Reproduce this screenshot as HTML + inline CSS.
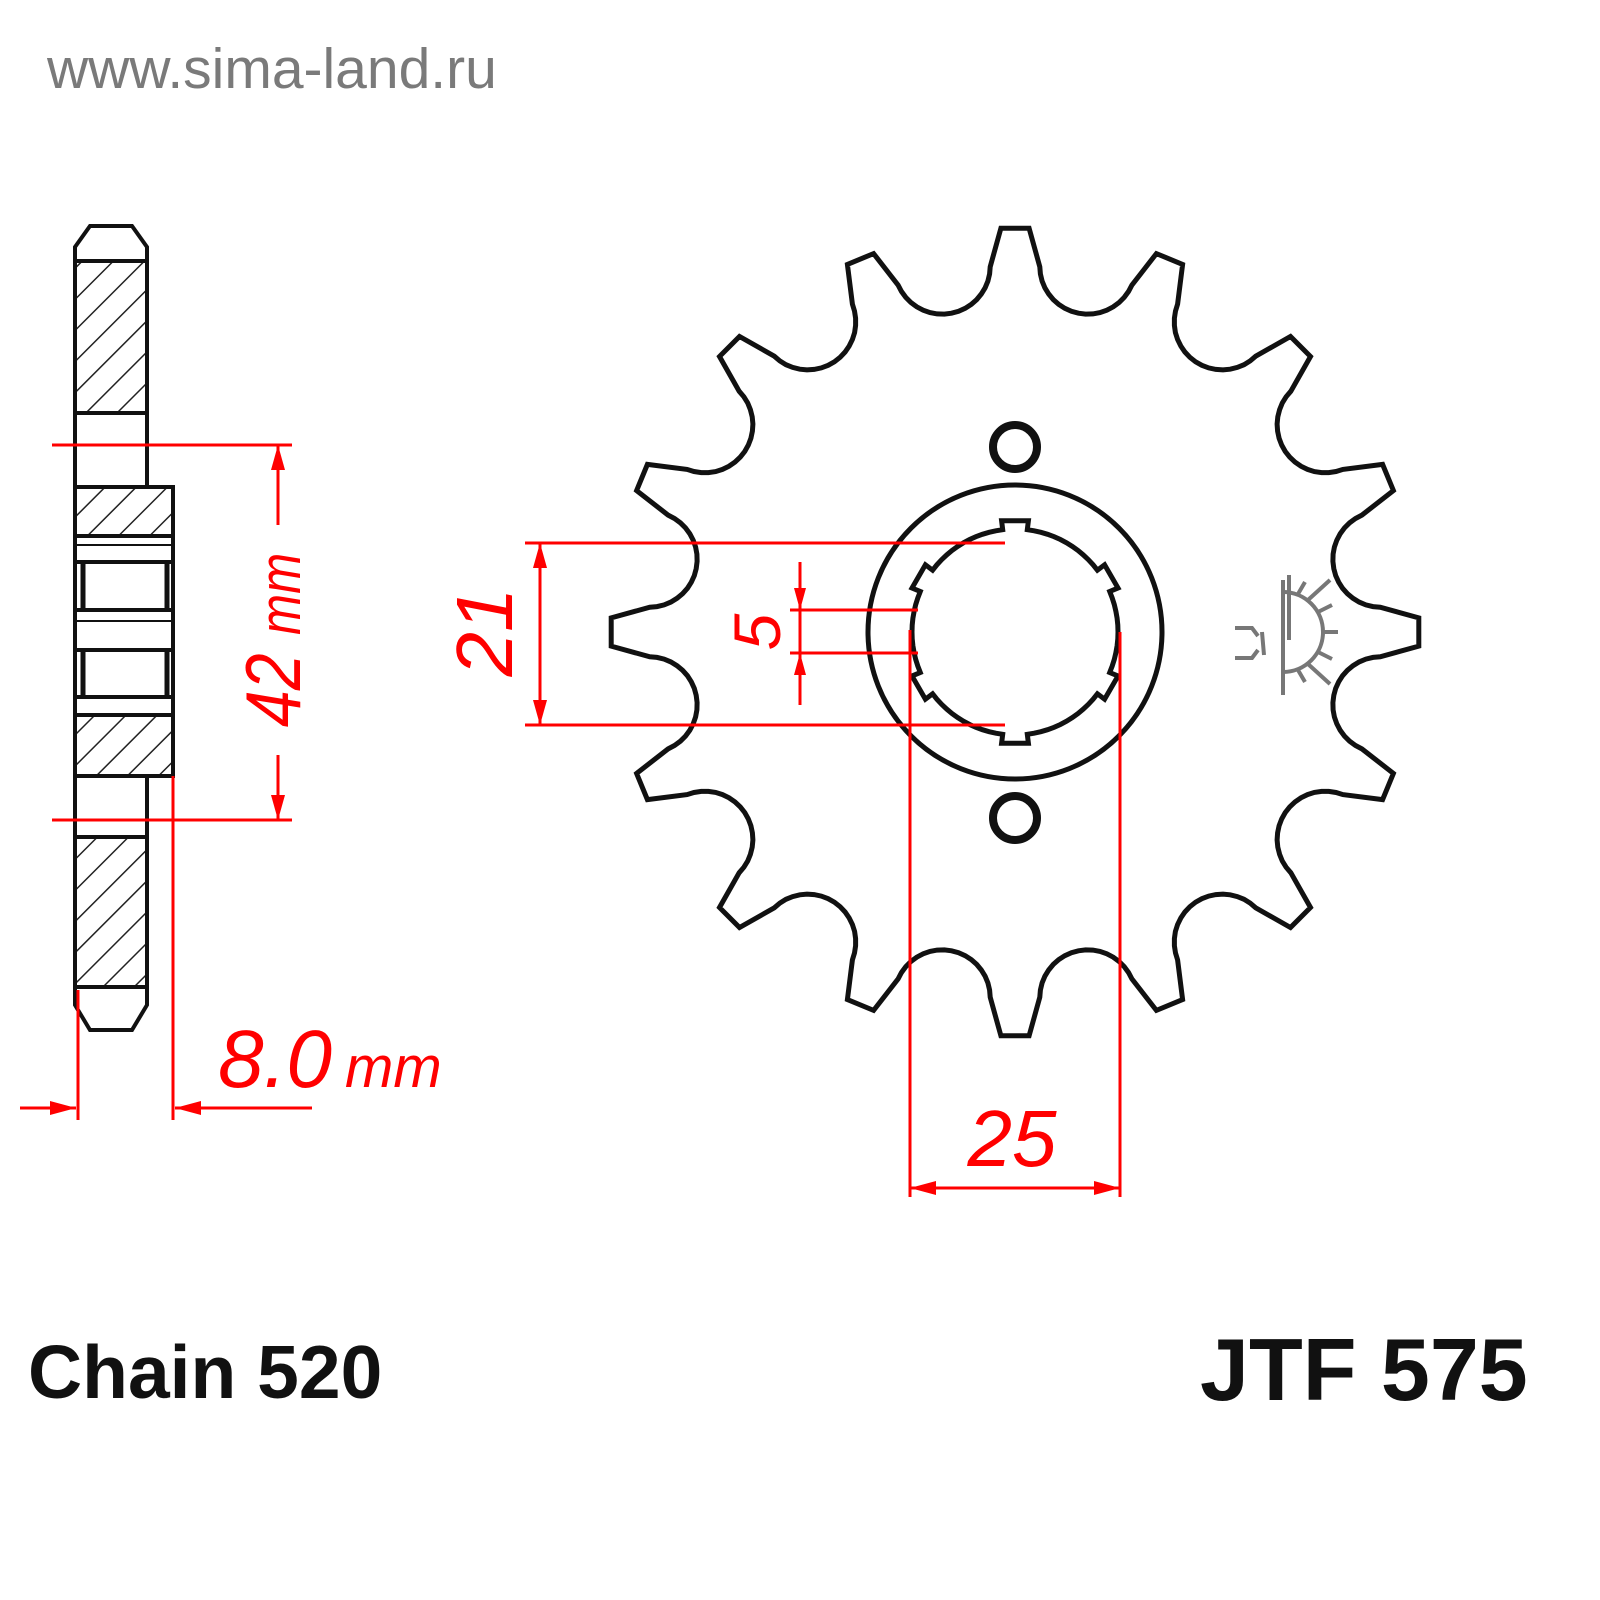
<!DOCTYPE html>
<html><head><meta charset="utf-8"><style>
html,body{margin:0;padding:0;background:#fff;}
svg{display:block}
</style></head><body>
<svg id="s" width="1600" height="1600" viewBox="0 0 1600 1600" xmlns="http://www.w3.org/2000/svg">
<defs>
<pattern id="h" patternUnits="userSpaceOnUse" width="22" height="22" patternTransform="rotate(45)">
<rect width="22" height="22" fill="#fff"/><line x1="0" y1="0" x2="0" y2="22" stroke="#222" stroke-width="3"/>
</pattern>
</defs>
<text x="47" y="88" font-family="Liberation Sans, sans-serif" font-size="57" fill="#7a7a7a">www.sima-land.ru</text>

<!-- side view -->
<g stroke="#111" stroke-width="4" fill="none">
<path d="M75,261 L75,247 L90,226 L132,226 L147,247 L147,261" fill="#fff"/>
<path d="M75,987 L75,1005 L90,1030 L132,1030 L147,1005 L147,987" fill="#fff"/>
<rect x="77" y="261" width="68" height="152" fill="url(#h)" stroke="none"/>
<rect x="77" y="487" width="94" height="49" fill="url(#h)" stroke="none"/>
<rect x="77" y="715" width="94" height="61" fill="url(#h)" stroke="none"/>
<rect x="77" y="837" width="68" height="150" fill="url(#h)" stroke="none"/>
<path d="M75,247 L75,1005"/>
<path d="M147,247 L147,487 L173,487 L173,776 L147,776 L147,1005"/>
<line x1="75" y1="261" x2="147" y2="261"/>
<line x1="75" y1="413" x2="147" y2="413"/>
<line x1="75" y1="487" x2="147" y2="487"/>
<line x1="75" y1="536" x2="173" y2="536"/>
<line x1="75" y1="545" x2="173" y2="545" stroke-width="2"/>
<line x1="75" y1="562" x2="173" y2="562"/>
<line x1="75" y1="610" x2="173" y2="610"/>
<line x1="75" y1="621" x2="173" y2="621" stroke-width="2"/>
<line x1="75" y1="650" x2="173" y2="650"/>
<line x1="75" y1="697" x2="173" y2="697"/>
<line x1="75" y1="715" x2="173" y2="715"/>
<line x1="75" y1="776" x2="147" y2="776"/>
<line x1="75" y1="837" x2="147" y2="837"/>
<line x1="75" y1="987" x2="147" y2="987"/>
<line x1="83" y1="562" x2="83" y2="610" stroke-width="5"/>
<line x1="167" y1="562" x2="167" y2="610" stroke-width="5"/>
<line x1="83" y1="650" x2="83" y2="697" stroke-width="5"/>
<line x1="167" y1="650" x2="167" y2="697" stroke-width="5"/>
</g>

<!-- red dims left -->
<g stroke="#f00" stroke-width="3" fill="none">
<line x1="52" y1="445" x2="292" y2="445"/>
<line x1="52" y1="820" x2="292" y2="820"/>
<line x1="278" y1="445" x2="278" y2="525"/>
<line x1="278" y1="755" x2="278" y2="820"/>
<line x1="78" y1="990" x2="78" y2="1120"/>
<line x1="173" y1="776" x2="173" y2="1120"/>
<line x1="20" y1="1108" x2="76" y2="1108"/>
<line x1="175" y1="1108" x2="312" y2="1108"/>
</g>
<g fill="#f00">
<polygon points="278,445 271,470 285,470"/>
<polygon points="278,820 271,795 285,795"/>
<polygon points="76,1108 50,1101 50,1115"/>
<polygon points="175,1108 201,1101 201,1115"/>
</g>
<g font-family="Liberation Sans, sans-serif" fill="#f00">
<text transform="translate(300,640) rotate(-90) scale(0.85,1)" text-anchor="middle" font-size="78" font-style="italic">42 <tspan font-size="58">mm</tspan></text>
<text x="218" y="1087" font-size="82" font-style="italic">8.0</text>
<text x="345" y="1087" font-size="58" font-style="italic">mm</text>
</g>

<!-- sprocket -->
<path id="spr" fill="none" stroke="#111" stroke-width="5"/>
<circle cx="1015" cy="632" r="147" fill="none" stroke="#111" stroke-width="5"/>
<path id="spl" fill="none" stroke="#111" stroke-width="5"/>
<circle cx="1015" cy="447" r="22" fill="none" stroke="#111" stroke-width="8"/>
<circle cx="1015" cy="818" r="22" fill="none" stroke="#111" stroke-width="8"/>

<!-- logo -->
<g stroke="#777" stroke-width="4" fill="none">
<line x1="1283" y1="580" x2="1283" y2="695"/>
<line x1="1289" y1="575" x2="1289" y2="640"/>
<path d="M1283,592 A40,40 0 0 1 1283,672"/>
<line x1="1323" y1="632" x2="1338" y2="632"/>
<line x1="1318" y1="612" x2="1332" y2="605"/>
<line x1="1318" y1="652" x2="1332" y2="659"/>
<line x1="1308" y1="600" x2="1330" y2="580"/>
<line x1="1308" y1="664" x2="1330" y2="684"/>
<line x1="1298" y1="594" x2="1305" y2="582"/>
<line x1="1298" y1="670" x2="1305" y2="682"/>
<path d="M1235,628 L1252,628 L1258,636 M1235,658 L1252,658 L1258,650 M1262,632 L1264,655"/>
</g>

<!-- red dims right -->
<g stroke="#f00" stroke-width="3" fill="none">
<line x1="525" y1="543" x2="1005" y2="543"/>
<line x1="525" y1="725" x2="1005" y2="725"/>
<line x1="540" y1="543" x2="540" y2="725"/>
<line x1="790" y1="610" x2="918" y2="610"/>
<line x1="790" y1="653" x2="918" y2="653"/>
<line x1="800" y1="562" x2="800" y2="705"/>
<line x1="910" y1="630" x2="910" y2="1197"/>
<line x1="1120" y1="632" x2="1120" y2="1197"/>
<line x1="910" y1="1188" x2="1120" y2="1188"/>
</g>
<g fill="#f00">
<polygon points="540,543 533,568 547,568"/>
<polygon points="540,725 533,700 547,700"/>
<polygon points="800,610 794,588 806,588"/>
<polygon points="800,653 794,675 806,675"/>
<polygon points="910,1188 936,1181 936,1195"/>
<polygon points="1120,1188 1094,1181 1094,1195"/>
</g>
<g font-family="Liberation Sans, sans-serif" fill="#f00" font-size="80" font-style="italic">
<text transform="translate(512,632) rotate(-90)" text-anchor="middle">21</text>
<text transform="translate(780,632) rotate(-90)" text-anchor="middle" font-size="66">5</text>
<text x="1012" y="1166" text-anchor="middle">25</text>
</g>

<g font-family="Liberation Sans, sans-serif" font-weight="bold" fill="#111">
<text x="28" y="1398" font-size="75">Chain 520</text>
<text x="1200" y="1400" font-size="88">JTF 575</text>
</g>
</svg>
<script>
(function(){
var cx=1015,cy=632,N=16,Rt=404,Rc=373,rho=48;
function P(r,a){return [cx+r*Math.cos(a),cy-r*Math.sin(a)];}
var pts=[];
for(var i=0;i<N;i++){
 var tip=Math.PI/2 - i*2*Math.PI/N;
 var hw=0.035;
 pts.push(P(Rt,tip+hw));pts.push(P(Rt,tip-hw));
 var v=tip-Math.PI/N;
 var c=P(Rc,v);
 var ox=Math.cos(v),oy=-Math.sin(v);
 var tx=Math.sin(v),ty=Math.cos(v);
 var sw=78*Math.PI/180;
 for(var k=0;k<=18;k++){
  var a=-sw+2*sw*k/18;
  var lt=Math.sin(a), lo=-Math.cos(a);
  pts.push([c[0]+rho*(lt*tx+lo*ox), c[1]+rho*(lt*ty+lo*oy)]);
 }
}
var d="M"+pts.map(function(p){return p[0].toFixed(1)+","+p[1].toFixed(1);}).join(" L")+" Z";
document.getElementById("spr").setAttribute("d",d);
var s=[],R1=103,R2=112;
for(var j=0;j<6;j++){
 var b=j*Math.PI/3+Math.PI/6;
 var w=0.12,steps=12;
 for(var k=0;k<=steps;k++){var a=b+w+(Math.PI/3-2*w)*k/steps;s.push(P(R1,a));}
 var nb=b+Math.PI/3;
 s.push(P(R2,nb-w));s.push(P(R2,nb+w));
}
document.getElementById("spl").setAttribute("d","M"+s.map(function(p){return p[0].toFixed(1)+","+p[1].toFixed(1);}).join(" L")+" Z");
})();
</script>
</body></html>
